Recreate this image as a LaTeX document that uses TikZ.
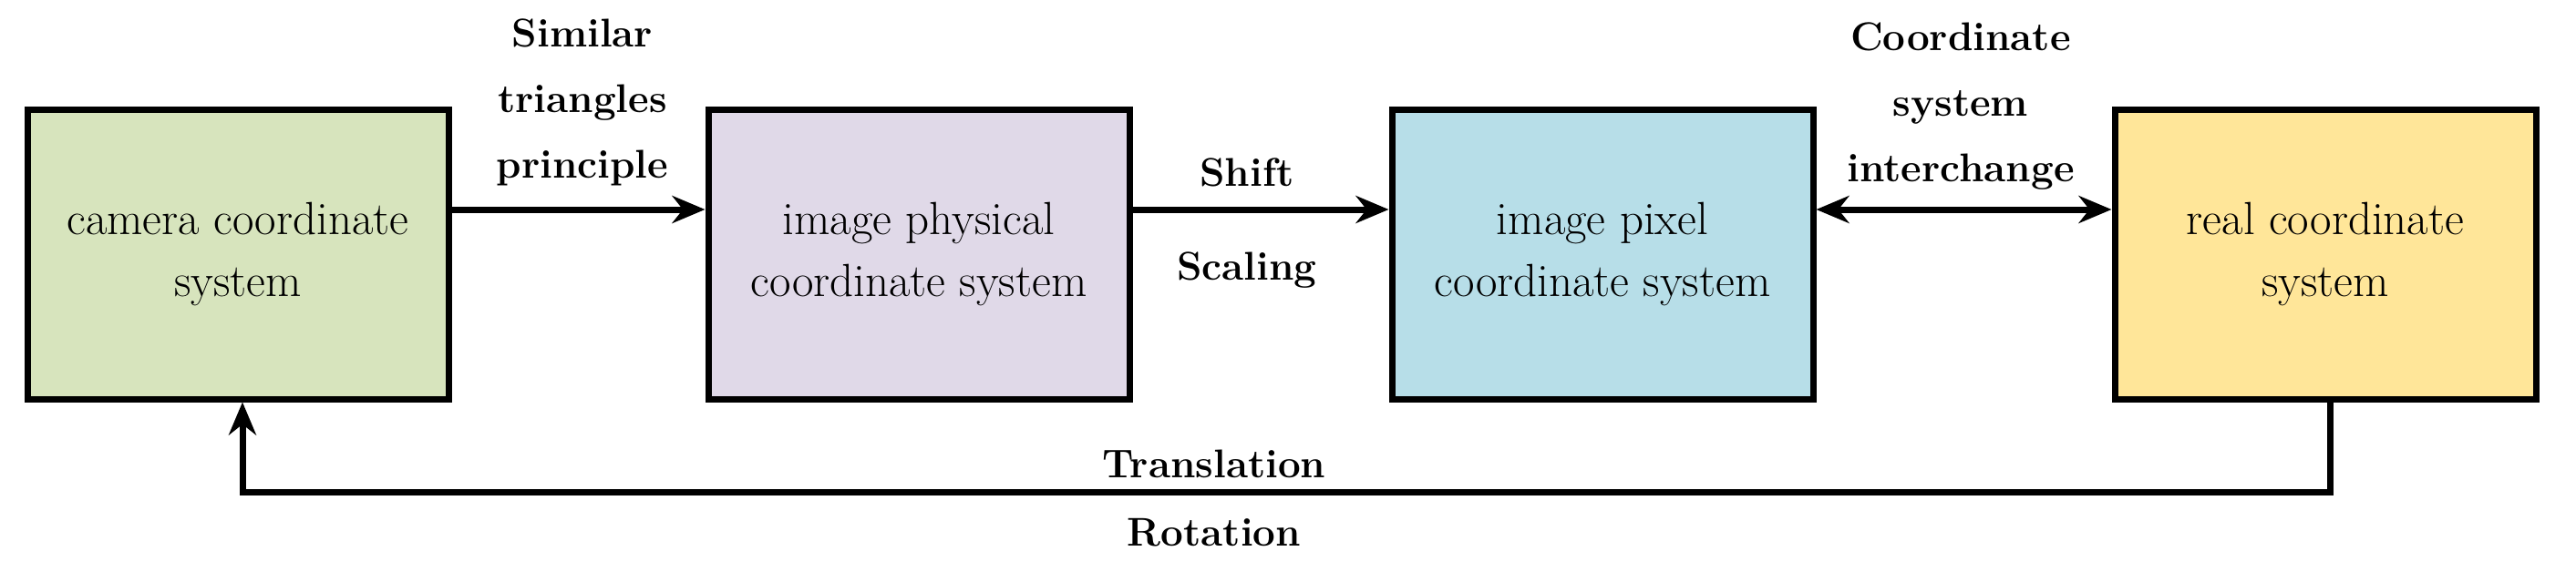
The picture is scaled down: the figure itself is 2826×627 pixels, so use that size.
\documentclass[tikz,border=0pt]{standalone}
\usetikzlibrary{arrows.meta}
\definecolor{cg}{HTML}{D7E4BD}
\definecolor{cp}{HTML}{E0D9E8}
\definecolor{cb}{HTML}{B7DEE8}
\definecolor{cy}{HTML}{FFE699}
\begin{document}
\begin{tikzpicture}[x=1pt,y=-1pt,
  box/.style={draw,line width=7pt,minimum width=462pt,minimum height=318pt,align=center,font=\fontsize{51}{68}\selectfont},
  lab/.style={font=\fontsize{44}{72}\selectfont\bfseries,align=center},
  arr/.style={line width=7pt,-{Stealth[length=36pt,width=30pt]}},
  darr/.style={line width=7pt,{Stealth[length=36pt,width=30pt]}-{Stealth[length=36pt,width=30pt]}}]
\useasboundingbox (0,0) rectangle (2826,627);
\node[box,fill=cg] (b1) at (261,279) {camera coordinate\\system};
\node[box,fill=cp] (b2) at (1008,279) {image physical\\coordinate system};
\node[box,fill=cb] (b3) at (1758,279) {image pixel\\coordinate system};
\node[box,fill=cy] (b4) at (2551,279) {real coordinate\\system};
\draw[arr] (b1.east|-0,230) -- (b2.west|-0,230);
\draw[arr] (b2.east|-0,230) -- (b3.west|-0,230);
\draw[darr] (b3.east|-0,230) -- (b4.west|-0,230);
\coordinate (c1) at (2556,540);
\coordinate (c2) at (266,540);
\draw[arr] (b4.south-|c1) -- (c1) -- (c2) -- (b1.south-|c2);
\node[lab] (l1) at (639,112) {Similar\\triangles\\principle};
\node[lab] (l2) at (1368,189) {Shift};
\node[lab] (l3) at (1368,297) {Scaling};
\node[lab] (l4) at (2151,117) {Coordinate\\system\\interchange};
\node[lab] (l5) at (1332,509) {Translation};
\node[lab] (l6) at (1332,585) {Rotation};
\end{tikzpicture}
\end{document}
